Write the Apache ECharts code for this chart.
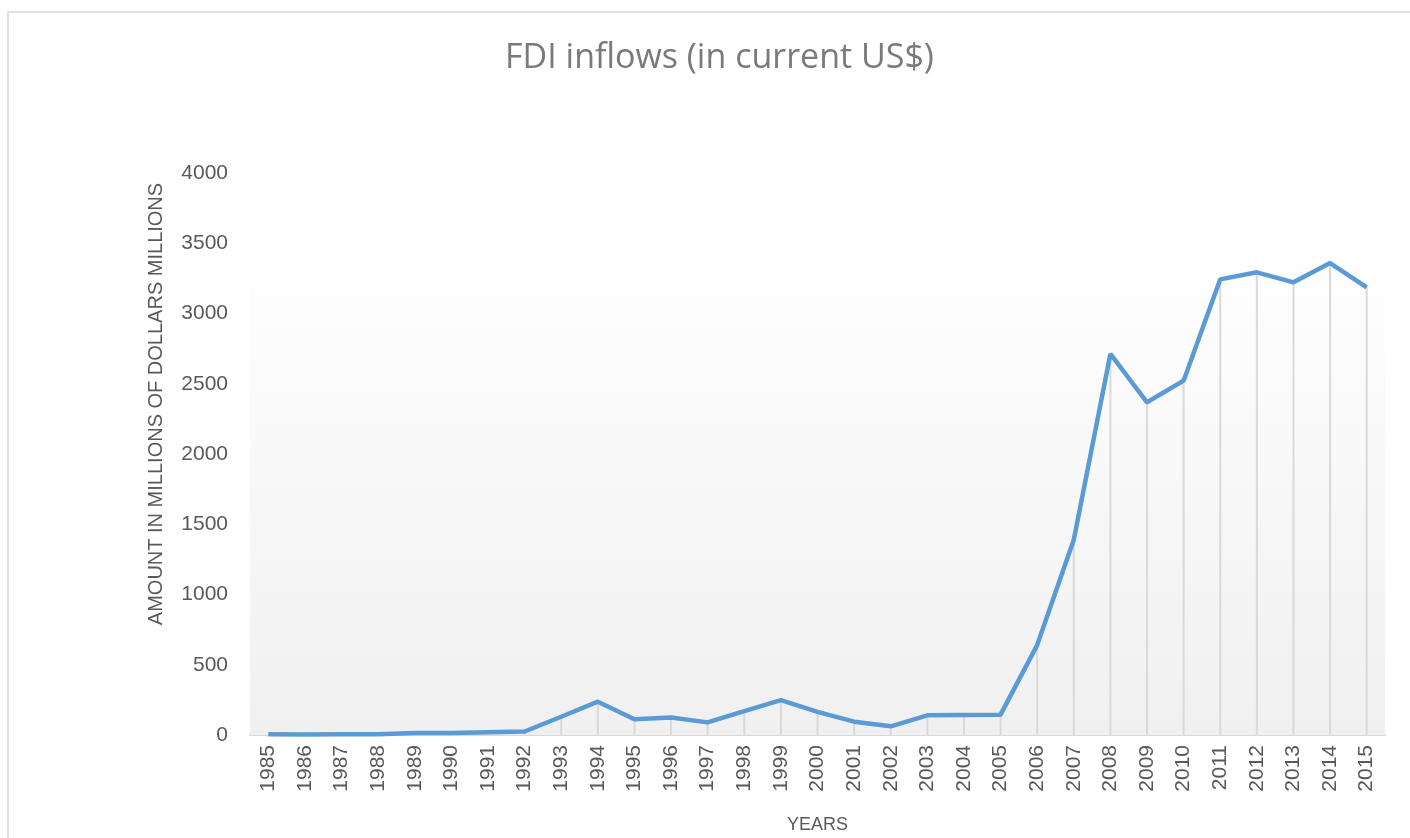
<!DOCTYPE html>
<html><head><meta charset="utf-8">
<script src="https://cdn.jsdelivr.net/npm/echarts@6/dist/echarts.min.js"></script>
<style>html,body{margin:0;padding:0;background:#fff}#c{width:1410px;height:838px}</style>
</head><body><div id="c"></div>
<script>
const years = ['1985','1986','1987','1988','1989','1990','1991','1992','1993','1994','1995','1996','1997','1998','1999','2000','2001','2002','2003','2004','2005','2006','2007','2008','2009','2010','2011','2012','2013','2014','2015'];
const fdi = [5,3,5,5,15,15,20,25,130,237,112,125,90,170,248,165,95,62,140,143,145,640,1390,2712,2368,2522,3243,3293,3222,3359,3186];
const yTicks = [0,500,1000,1500,2000,2500,3000,3500,4000];
const bgTop = 3460;
const yName = 'AMOUNT IN MILLIONS OF DOLLARS MILLIONS';

const font = 'Liberation Sans, Open Sans, sans-serif';
const chart = echarts.init(document.getElementById('c'));
chart.setOption({
  animation:false,
  title:{text:'FDI inflows (in current US$)',left:500,top:36,textStyle:{fontFamily:'Open Sans',fontWeight:'normal',fontSize:34,color:'#7a7a7a'}},
  graphic:[
    {type:'rect',shape:{x:8,y:12,width:1420,height:900},style:{fill:'none',stroke:'#d9d9d9',lineWidth:1.5},silent:true,z:-10},
    {type:'text',x:156,y:404,rotation:Math.PI/2,style:{text:yName,fontFamily:font,fontSize:20,fill:'#595959',align:'center',verticalAlign:'middle'},silent:true}
  ],
  grid:{left:250,right:25,top:173,bottom:103,containLabel:false,outerBoundsMode:'none'},
  xAxis:{type:'category',data:years,boundaryGap:true,
    name:'YEARS',nameLocation:'middle',nameGap:81,nameTextStyle:{fontFamily:font,fontSize:18,color:'#595959'},
    axisLine:{lineStyle:{color:'#d9d9d9',width:2}},axisTick:{show:false},
    axisLabel:{rotate:90,interval:0,margin:10,fontFamily:font,fontSize:21,color:'#595959'}},
  yAxis:{type:'value',min:yTicks[0],max:yTicks[yTicks.length-1],interval:500,
    axisLine:{show:false},axisTick:{show:false},splitLine:{show:false},
    axisLabel:{margin:22,fontFamily:font,fontSize:21,color:'#595959',formatter:v=>String(v)}},
  series:[
    {type:'bar',data:fdi,barWidth:2,itemStyle:{color:'#d9d9d9'},z:1,silent:true,
     markArea:{silent:true,itemStyle:{color:new echarts.graphic.LinearGradient(0,0,0,1,[{offset:0,color:'#ffffff'},{offset:1,color:'#f0f0f0'}])},
       data:[[{yAxis:bgTop},{yAxis:0}]]}},
    {type:'line',data:fdi,showSymbol:false,symbol:'none',lineStyle:{color:'#5b9bd5',width:4.5},z:3}
  ]
});
</script></body></html>
